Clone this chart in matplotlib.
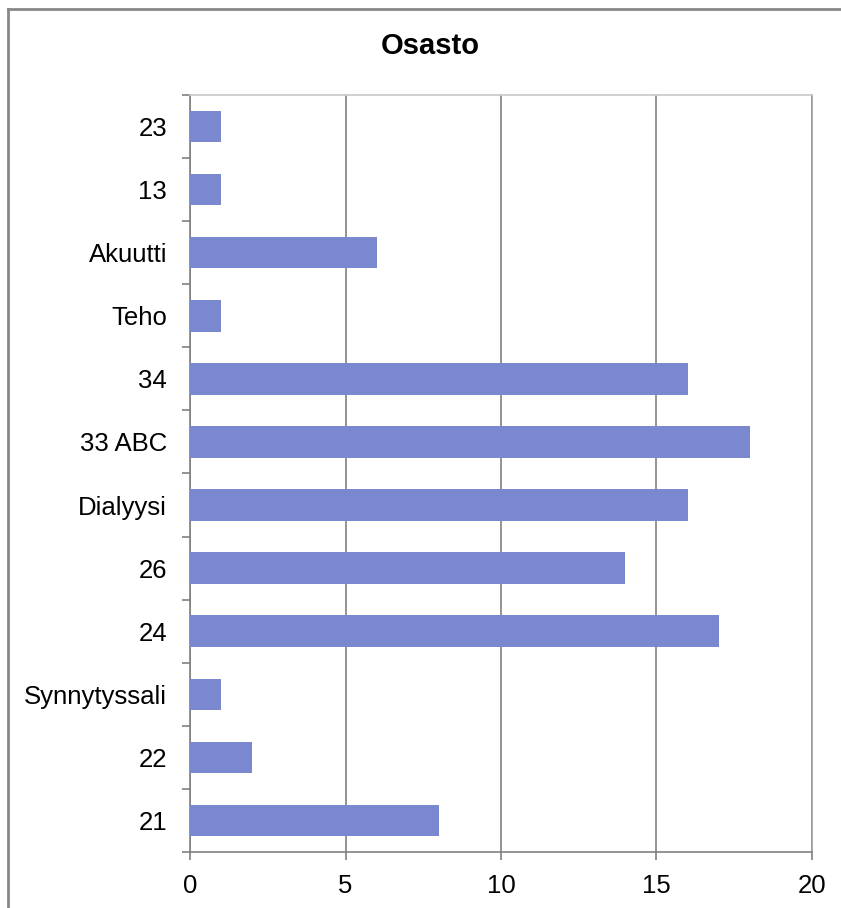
import matplotlib
matplotlib.use("Agg")
import matplotlib.pyplot as plt
from matplotlib.lines import Line2D
import numpy as np

# Data (bottom to top, as drawn)
categories = ["21", "22", "Synnytyssali", "24", "26", "Dialyysi",
              "33 ABC", "34", "Teho", "Akuutti", "13", "23"]
values = [8, 2, 1, 17, 14, 16, 18, 16, 1, 6, 1, 1]
x_ticks = [0, 5, 10, 15, 20]

plt.rcParams['font.family'] = ['Liberation Sans', 'DejaVu Sans']

W, H = 841, 908
fig = plt.figure(figsize=(W / 100, H / 100), dpi=100)
ax = fig.add_axes([190 / W, 1 - 852 / H, (812 - 190) / W, (852 - 95) / H])

pos = np.arange(len(categories))
ax.barh(pos, values, height=0.5, color='#7A89CF', zorder=3)

ax.set_xlim(0, 20)
ax.set_ylim(-0.5, len(categories) - 0.5)
ax.set_xticks(x_ticks)
ax.set_xticklabels([str(t) for t in x_ticks], fontsize=18.5)

# category labels at centers, tick marks between categories
ax.set_yticks(pos)
ax.set_yticklabels(categories, fontsize=18.5)
ax.set_yticks(np.arange(-0.5, len(categories)), minor=True)
ax.tick_params(axis='y', which='major', length=0, pad=16.5)
ax.tick_params(axis='y', which='minor', length=6, width=1.2, color='#808080', direction='out')
ax.tick_params(axis='x', length=6, width=1.2, color='#808080', direction='out', pad=10)

ax.grid(axis='x', color='#808080', linewidth=1.2, zorder=0)
for s in ax.spines.values():
    s.set_color('#808080')
    s.set_linewidth(1.2)
ax.spines['right'].set_color('#a0a0a0')
ax.spines['top'].set_color('#c8c8c8')

fig.text(430 / W, 1 - 46 / H, "Osasto", ha='center', va='center',
         fontsize=21, fontweight='bold')

# outer chart border (left and top visible)
fig.add_artist(Line2D([8 / W, 8 / W], [0, 1 - 9 / H], transform=fig.transFigure,
                      color='#888888', linewidth=2))
fig.add_artist(Line2D([8 / W, 1], [1 - 9 / H, 1 - 9 / H], transform=fig.transFigure,
                      color='#888888', linewidth=2))

fig.savefig("out.png", dpi=100)
